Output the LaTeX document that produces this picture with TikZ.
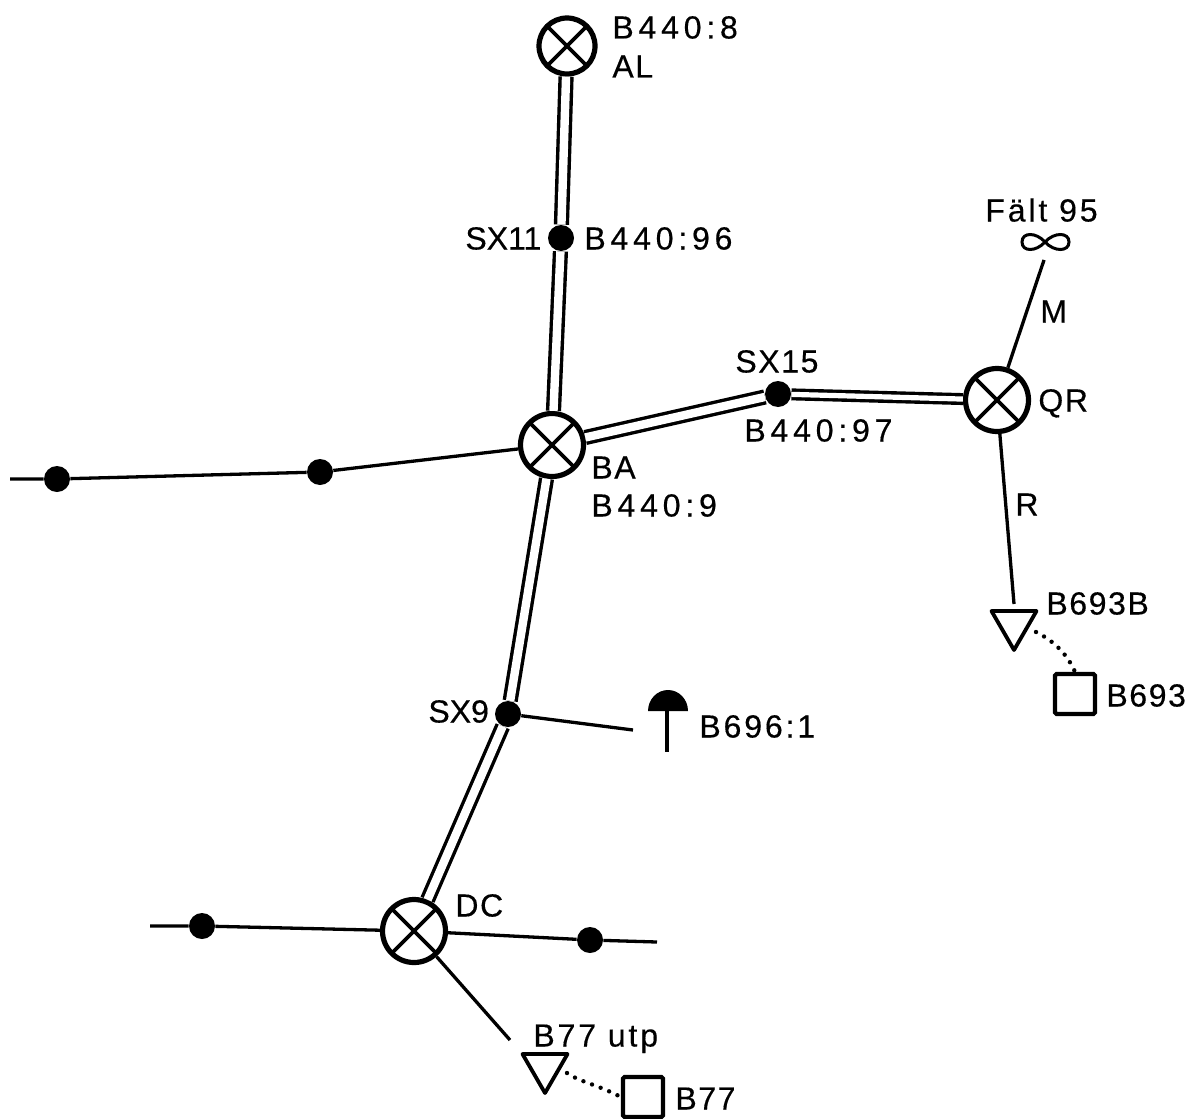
\documentclass[tikz,border=0pt]{standalone}
\usepackage{fontspec}
\setmainfont[LetterSpace=5,FakeBold=0.35]{Liberation Sans}
\usetikzlibrary{shapes.geometric}
\tikzset{
  x=0.5pt,y=-0.5pt,
  wire/.style={draw=black,line width=1.65pt},
  dbl/.style={draw=black,line width=1.7pt,double=white,double distance=4.2pt},
  xcircle/.style={circle,draw=black,fill=white,line width=2.6pt,minimum size=31.5pt,inner sep=0pt,
    path picture={\draw[line width=1.8pt,line cap=butt] (path picture bounding box.center)+(-12pt,-12pt) -- +(12pt,12pt) (path picture bounding box.center)+(-12pt,12pt) -- +(12pt,-12pt);}},
  blob/.style={circle,fill=black,minimum size=13pt,inner sep=0pt},
  tri/.style={regular polygon,regular polygon sides=3,shape border rotate=180,draw=black,line width=1.9pt,minimum size=26pt,inner sep=0pt,line join=round},
  sq/.style={rectangle,draw=black,line width=2.1pt,minimum size=20pt,inner sep=0pt,rounded corners=0.8pt},
  lab/.style={inner sep=0pt,anchor=west,font=\fontsize{16}{16}\selectfont,text height=11.5pt,text depth=0pt},
  widelab/.style={lab,font=\fontsize{16}{16}\selectfont\addfontfeature{LetterSpace=15}},
  midlab/.style={lab,font=\fontsize{16}{16}\selectfont\addfontfeature{LetterSpace=9}},
  tightlab/.style={lab,font=\fontsize{16}{16}\selectfont\addfontfeature{LetterSpace=0}},
  dots/.style={line width=2.2pt,line cap=round,dash pattern=on 0pt off 4.6pt},
}
\begin{document}
\begin{tikzpicture}
\useasboundingbox (0,0) rectangle (1197,1118);
% junctions
\node[xcircle,minimum size=28pt] (AL) at (567,46) {};
\node[xcircle] (BA) at (552,445) {};
\node[xcircle] (QR) at (997,400) {};
\node[xcircle] (DC) at (414,931) {};
\node[blob] (SX11) at (561,238) {};
\node[blob] (SX15) at (778,394) {};
\node[blob] (SX9) at (508,714) {};
\node[blob] (W1) at (57,479) {};
\node[blob] (W2) at (320,472) {};
\node[blob] (E1) at (202,926) {};
\node[blob] (E2) at (590,940) {};
\node[tri] (T1) at (1014,624) {};
\node[tri] (T2) at (545,1067) {};
\node[sq] (S1) at (1075,694) {};
\node[sq] (S2) at (643,1097) {};
% free ends
\coordinate (W0) at (10,479);
\coordinate (E0) at (150,926);
\coordinate (E3) at (657,942);
\coordinate (Mend) at (1044,260);
\coordinate (Rend) at (1014,604);
\coordinate (Uend) at (510,1040);
\coordinate (Bend) at (633,730);
\coordinate (Stem) at (667,711);
\coordinate (StemEnd) at (667,752);
% double lines
\draw[dbl] (AL) -- (SX11);
\draw[dbl] (SX11) -- (BA);
\draw[dbl] (BA) -- (SX15);
\draw[dbl,double distance=2.6pt] (SX15) -- (QR);
\draw[dbl] (BA) -- (SX9);
\draw[dbl] (SX9) -- (DC);
% single lines
\draw[wire] (W0) -- (W1) -- (W2) -- (BA);
\draw[wire] (E0) -- (E1) -- (DC);
\draw[wire] (DC) -- (E2) -- (E3);
\draw[wire] (QR) -- (Mend);
\draw[wire] (QR) -- (Rend);
\draw[wire] (DC) -- (Uend);
\draw[wire] (SX9) -- (Bend);
% dotted links
\draw[dots] (1036,632) .. controls (1056,642) and (1068,656) .. (S1.north);
\draw[dots] (567,1073) .. controls (580,1082) and (596,1084) .. (S2.west);
% aerial
\fill (648,711) arc[start angle=180,end angle=360,x radius=20,y radius=21] -- cycle;
\draw[line width=2.2pt] (Stem) -- (StemEnd);
% infinity
\draw[line width=1.5pt] (1045,242) .. controls (1036,232) and (1022,232) .. (1022,242)
  .. controls (1022,252) and (1036,252) .. (1045,242)
  .. controls (1054,232) and (1069,232) .. (1069,242)
  .. controls (1069,252) and (1054,252) .. (1045,242);
% labels
\node[widelab] (l1) at (612,27) {B440:8};
\node[lab] (l2) at (612,66) {AL};
\node[tightlab] (l3) at (465,238) {SX11};
\node[widelab] (l4) at (584,238) {B440:96};
\node[lab] (l5) at (735,361) {SX15};
\node[widelab] (l6) at (744,430) {B440:97};
\node[lab] (l7) at (591,467) {BA};
\node[widelab] (l8) at (591,505) {B440:9};
\node[lab] (l9) at (1038,400) {QR};
\node[midlab] (l10) at (985,210) {Fält 95};
\node[lab] (l11) at (1040,311) {M};
\node[lab] (l12) at (1015,504) {R};
\node[lab] (l13) at (1046,603) {B693B};
\node[lab] (l14) at (1106,695) {B693};
\node[midlab] (l15) at (699,726) {B696:1};
\node[tightlab] (l16) at (428,711) {SX9};
\node[lab] (l17) at (455,905) {DC};
\node[midlab] (l18) at (533,1035) {B77 utp};
\node[lab] (l19) at (675,1098) {B77};
\end{tikzpicture}
\end{document}
